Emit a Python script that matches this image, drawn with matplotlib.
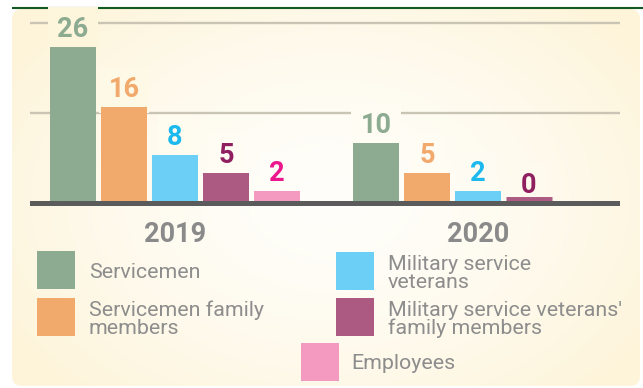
import numpy as np
import matplotlib.pyplot as plt
from matplotlib.patches import FancyBboxPatch, Rectangle
from matplotlib.transforms import blended_transform_factory, offset_copy

plt.rcParams['font.family'] = ['Roboto', 'DejaVu Sans']

years = ['2019', '2020']
groups = ['Servicemen',
          'Servicemen family\nmembers',
          'Military service\nveterans',
          "Military service veterans'\nfamily members",
          'Employees']
counts_2019 = [26, 16, 8, 5, 2]
counts_2020 = [10, 5, 2, 0, np.nan]

bar_colors = ['#8cab90', '#f2aa6c', '#6bcff6', '#ad5a83', '#f49ac1']
label_colors = ['#8cab90', '#f2aa6c', '#1cb9ef', '#8f1f5f', '#ec178c']
text_gray = '#8d8d8d'

W, H = 643, 388
fig = plt.figure(figsize=(W / 100, H / 100), dpi=100)
fig.patch.set_facecolor('white')

INNER = np.array([255, 254, 250]) / 255
OUTER = np.array([253, 244, 217]) / 255


def panel_color(px, py):
    """Radial cream gradient, px/py in pixels from the top-left."""
    r = np.hypot((px - 330) / 380, (py - 200) / 270)
    t = np.clip(r, 0, 1) ** 1.5
    return INNER + (OUTER - INNER) * np.asarray(t)[..., None]


# pixel-unit axes covering the whole figure: panel, rule, legend
bg = fig.add_axes([0, 0, 1, 1])
bg.axis('off')

panel = FancyBboxPatch((12, 9), 628, 377, boxstyle='round,pad=0,rounding_size=10',
                       facecolor='none', edgecolor='none')
bg.add_patch(panel)
yy, xx = np.mgrid[0:H, 0:W]
im = bg.imshow(panel_color(xx, yy), extent=(0, W, H, 0), aspect='auto', zorder=0)
im.set_clip_path(panel)
bg.set_xlim(0, W)
bg.set_ylim(H, 0)
bg.plot([12, W], [8, 8], color='#135a22', lw=1.5, solid_capstyle='butt')

# bar chart axes
zero_px, ppu = 203, 6.0
y_lo, y_hi = -2.5, 32
cx0, cx1 = 175, 478
x_ppu = cx1 - cx0
ax = fig.add_axes([30 / W, (H - zero_px + y_lo * ppu) / H,
                   590 / W, (y_hi - y_lo) * ppu / H])
ax.set_xlim((30 - cx0) / x_ppu, (620 - cx0) / x_ppu)
ax.set_ylim(y_lo, y_hi)
ax.patch.set_alpha(0)
for s in ax.spines.values():
    s.set_visible(False)
ax.set_xticks([])
ax.set_yticks([15, 30])
ax.tick_params(length=0, labelleft=False)
ax.grid(axis='y', color='#cac4b5', lw=1.7)
ax.set_axisbelow(True)
ax.axhline(0, color='#5b5b5b', lw=3.6, zorder=3)

# zero-height bars get a thin stub sitting on the baseline
stub = offset_copy(ax.transData, fig=fig, y=2.5, units='points')

values = np.array([counts_2019, counts_2020], dtype=float)
pitch = 51 / x_ppu
width = 46 / x_ppu
cats = np.arange(len(years))
for i in range(len(groups)):
    xs = cats + (i - 2) * pitch
    ax.bar(xs, values[:, i], width, color=bar_colors[i], zorder=2)
    for x, v in zip(xs, values[:, i]):
        if np.isnan(v):
            continue
        if v == 0:
            ax.plot([x - width / 2, x + width / 2], [v, v], color=bar_colors[i],
                    lw=5, solid_capstyle='butt', zorder=2, transform=stub)
        dx, dy = ax.transData.transform((x, v))
        fc = panel_color(dx, H - dy - 20)
        ax.annotate(f'{v:g}', (x, v), xytext=(0, 7), textcoords='offset points',
                    ha='center', va='baseline', fontsize=19.5, fontweight='bold',
                    color=label_colors[i], zorder=1,
                    bbox=dict(boxstyle='square,pad=0.35', fc=fc, ec='none'))

trans = blended_transform_factory(ax.transData, bg.transData)
for c, yr in zip(cats, years):
    fig.text(c, 242, yr, transform=trans, ha='center', va='baseline',
             fontsize=19.5, fontweight='bold', color='#8a8a8a')

# legend: swatch top-left and text anchor, in pixels
legend_pos = [(37, 251, 89, 278),
              (37, 298, 89, 334),
              (336, 252, 388, 288),
              (336, 298, 388, 334),
              (301, 343, 351, 369)]
for (sx, sy, tx, ty), name, col in zip(legend_pos, groups, bar_colors):
    bg.add_patch(Rectangle((sx, sy), 38, 38, facecolor=col, edgecolor='none'))
    bg.text(tx, ty, name, ha='left', va='baseline', fontsize=15.4,
            color=text_gray, linespacing=0.93)

fig.savefig('out.png', dpi=100)
